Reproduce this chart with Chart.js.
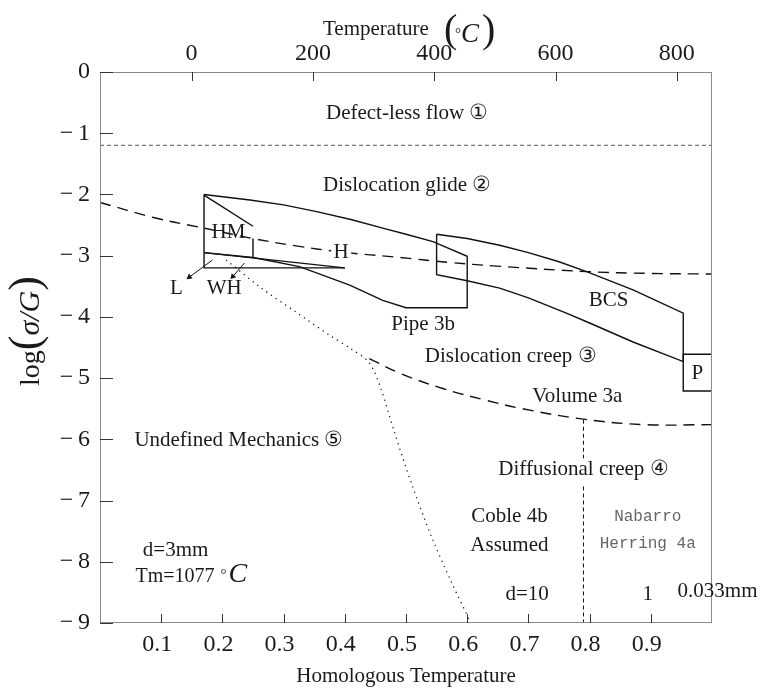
<!DOCTYPE html>
<html>
<head>
<meta charset="utf-8">
<script src="https://cdn.jsdelivr.net/npm/chart.js@4.4.1/dist/chart.umd.min.js"></script>
<style>
  html, body { margin: 0; padding: 0; background: #fff; }
</style>
</head>
<body>
<canvas id="mapChart" width="763" height="688"></canvas>
<script>
// axes
const xTicks = [0.1, 0.2, 0.3, 0.4, 0.5, 0.6, 0.7, 0.8, 0.9];
const yTicks = [0, -1, -2, -3, -4, -5, -6, -7, -8, -9];
const tempTicks = [0, 200, 400, 600, 800];
const tempRange = [-151, 858];

// boundaries (homologous T, log(sigma/G))
const idealX = [0, 1];
const idealY = [-1.2, -1.2];

const glideX = [0, 0.089, 0.17, 0.25, 0.32, 0.394, 0.49, 0.57, 0.648, 0.795, 0.9, 1.0];
const glideY = [-2.13, -2.38, -2.55, -2.72, -2.84, -2.94, -3.03, -3.11, -3.17, -3.26, -3.29, -3.30];

const pipeX = [0.17, 0.245, 0.30, 0.354, 0.41, 0.462, 0.50, 0.544, 0.60, 0.60, 0.50, 0.462, 0.408, 0.326, 0.25, 0.17];
const pipeY = [-2.0, -2.09, -2.17, -2.28, -2.41, -2.55, -2.65, -2.77, -3.01, -3.85, -3.85, -3.73, -3.48, -3.18, -3.03, -2.95];

const leftEdgeX = [0.17, 0.17, 0.40];
const leftEdgeY = [-2.0, -3.2, -3.2];
const wedgeX = [0.17, 0.40];
const wedgeY = [-2.95, -3.2];
const hmDiagX = [0.17, 0.25];
const hmDiagY = [-2.01, -2.52];
const hmSideX = [0.25, 0.25];
const hmSideY = [-2.72, -3.04];

const bcsX = [0.55, 0.60, 0.653, 0.70, 0.75, 0.795, 0.871, 0.953, 0.953, 0.871, 0.80, 0.762, 0.70, 0.653, 0.60, 0.55, 0.55];
const bcsY = [-2.65, -2.72, -2.83, -2.95, -3.10, -3.26, -3.56, -3.94, -4.73, -4.41, -4.10, -3.94, -3.69, -3.53, -3.41, -3.31, -2.65];

const pBoxX = [1.0, 0.953, 0.953, 1.0];
const pBoxY = [-4.61, -4.61, -5.21, -5.21];

const undefX = [0.206, 0.261, 0.32, 0.375, 0.41, 0.44, 0.46, 0.48, 0.51, 0.542, 0.575, 0.606];
const undefY = [-3.07, -3.51, -3.92, -4.30, -4.52, -4.75, -5.2, -5.85, -6.75, -7.6, -8.35, -9.0];

const volumeX = [0.44, 0.49, 0.56, 0.63, 0.69, 0.79, 0.89, 1.0];
const volumeY = [-4.68, -4.92, -5.17, -5.36, -5.50, -5.67, -5.76, -5.76];

const nhX = [0.79, 0.79, 0.79, 0.79, 0.79];
const nhY = [-5.68, -6.31, null, -6.77, -9.0];

const arrowL_X = [0.184, 0.146];
const arrowL_Y = [-3.07, -3.35];
const arrowWH_X = [0.236, 0.217];
const arrowWH_Y = [-3.12, -3.34];

// region labels
const labelText = ['Defect-less flow \u2460', 'Dislocation glide \u2461', 'HM', 'H', 'L', 'WH', 'Pipe 3b', 'BCS',
  'Dislocation creep \u2462', 'Volume 3a', 'P', 'Undefined Mechanics \u2464', 'Diffusional creep \u2463',
  'Coble 4b', 'Assumed', 'd=10', '1', '0.033mm', 'd=3mm'];
const labelX = [0.502, 0.502, 0.210, 0.394, 0.125, 0.203, 0.528, 0.831, 0.671, 0.780, 0.976, 0.227, 0.790,
  0.669, 0.669, 0.698, 0.895, 1.009, 0.1235];
const labelY = [-0.67, -1.846, -2.62, -2.94, -3.53, -3.53, -4.12, -3.74, -4.65, -5.30, -4.93, -6.02, -6.49,
  -7.26, -7.73, -8.54, -8.54, -8.49, -7.81];
const monoText = ['Nabarro', 'Herring 4a'];
const monoX = [0.895, 0.895];
const monoY = [-7.27, -7.71];

const SERIF = '"Liberation Serif", "Times New Roman", serif';

function pts(xs, ys) {
  return xs.map((x, i) => ({ x: x, y: ys[i] }));
}

function line(xs, ys, opts) {
  return Object.assign({
    data: pts(xs, ys),
    showLine: true,
    pointRadius: 0,
    borderColor: '#111',
    borderWidth: 1.4,
    tension: 0,
    fill: false
  }, opts || {});
}

const datasets = [
  line(idealX, idealY, { borderColor: '#777', borderWidth: 1.2, borderDash: [4, 3] }),
  line(glideX, glideY, { borderDash: [11, 7], tension: 0.4 }),
  line(pipeX, pipeY),
  line(leftEdgeX, leftEdgeY),
  line(wedgeX, wedgeY, { borderWidth: 1.1 }),
  line(hmDiagX, hmDiagY),
  line(hmSideX, hmSideY),
  line(bcsX, bcsY),
  line(pBoxX, pBoxY),
  line(undefX, undefY, { borderDash: [1.2, 4.5], borderWidth: 1.3, tension: 0.3 }),
  line(volumeX, volumeY, { borderDash: [11, 7], tension: 0.4 }),
  line(nhX, nhY, { borderDash: [4, 3], borderWidth: 1 }),
  line(arrowL_X, arrowL_Y, { borderWidth: 1, pointRadius: [0, 3.5], pointStyle: 'triangle',
    pointRotation: [0, 234], pointBackgroundColor: '#111', pointBorderWidth: 0 }),
  line(arrowWH_X, arrowWH_Y, { borderWidth: 1, pointRadius: [0, 3.5], pointStyle: 'triangle',
    pointRotation: [0, 221], pointBackgroundColor: '#111', pointBorderWidth: 0 })
];

function txt(ctx, s, x, y, font, color, align, base) {
  ctx.font = font;
  ctx.fillStyle = color || '#1a1a1a';
  ctx.textAlign = align || 'center';
  ctx.textBaseline = base || 'middle';
  ctx.fillText(s, x, y);
}

const decor = {
  id: 'decor',
  afterDraw(chart) {
    const ctx = chart.ctx;
    const a = chart.chartArea;
    const sx = chart.scales.x, sy = chart.scales.y, st = chart.scales.x2;
    ctx.save();

    // frame
    ctx.strokeStyle = '#8a8a8a';
    ctx.lineWidth = 1;
    ctx.strokeRect(a.left + 0.5, a.top + 0.5, a.right - a.left - 1, a.bottom - a.top - 1);

    // inward tick marks
    ctx.strokeStyle = '#333';
    ctx.beginPath();
    xTicks.forEach(v => {
      const p = Math.round(sx.getPixelForValue(v)) + 0.5;
      ctx.moveTo(p, a.bottom); ctx.lineTo(p, a.bottom - 9);
    });
    tempTicks.forEach(v => {
      const p = Math.round(st.getPixelForValue(v)) + 0.5;
      ctx.moveTo(p, a.top); ctx.lineTo(p, a.top + 9);
    });
    yTicks.forEach(v => {
      const p = Math.round(sy.getPixelForValue(v)) + 0.5;
      ctx.moveTo(a.left, p); ctx.lineTo(a.left + 13, p);
    });
    ctx.stroke();

    // region labels
    labelText.forEach((s, i) => {
      const px = sx.getPixelForValue(labelX[i]), py = sy.getPixelForValue(labelY[i]);
      if (s === 'H') {
        ctx.fillStyle = '#fff';
        ctx.fillRect(px - 10, py - 9, 20, 18);
      }
      txt(ctx, s, px, py, '21px ' + SERIF);
    });
    monoText.forEach((s, i) => {
      txt(ctx, s, sx.getPixelForValue(monoX[i]), sy.getPixelForValue(monoY[i]),
        '16px "Liberation Mono", monospace', '#666');
    });

    // Tm=1077 °C
    const tx = sx.getPixelForValue(0.058), ty = 582;
    txt(ctx, 'Tm=1077', tx, ty, '20px ' + SERIF, null, 'left', 'alphabetic');
    const tw = ctx.measureText('Tm=1077').width;
    txt(ctx, '\u00b0', tx + tw + 6, ty - 3, '15px ' + SERIF, null, 'left', 'alphabetic');
    txt(ctx, 'C', tx + tw + 14, ty, 'italic 28px ' + SERIF, null, 'left', 'alphabetic');

    // top title: Temperature (°C)
    txt(ctx, 'Temperature', 323, 35, '21px ' + SERIF, null, 'left', 'alphabetic');
    txt(ctx, '(', 444, 42, '40px ' + SERIF, null, 'left', 'alphabetic');
    txt(ctx, '\u00b0', 455, 38, '15px ' + SERIF, null, 'left', 'alphabetic');
    txt(ctx, 'C', 461, 42, 'italic 27px ' + SERIF, null, 'left', 'alphabetic');
    txt(ctx, ')', 482, 42, '40px ' + SERIF, null, 'left', 'alphabetic');

    // bottom title
    txt(ctx, 'Homologous Temperature', 406, 682, '21px ' + SERIF, null, 'center', 'alphabetic');

    // y title: log(σ/G), rotated
    ctx.translate(39, 331);
    ctx.rotate(-Math.PI / 2);
    const parts = [
      ['log', '28px ' + SERIF],
      ['(', '44px ' + SERIF],
      ['\u03c3/', 'italic 30px ' + SERIF],
      ['G', 'italic 30px ' + SERIF],
      [')', '44px ' + SERIF]
    ];
    let total = 0;
    parts.forEach(p => { ctx.font = p[1]; total += ctx.measureText(p[0]).width; });
    let cx = -total / 2;
    parts.forEach(p => {
      txt(ctx, p[0], cx, 0, p[1], null, 'left', 'alphabetic');
      ctx.font = p[1];
      cx += ctx.measureText(p[0]).width;
    });

    ctx.restore();
  }
};

const tickFont = { family: SERIF, size: 24 };

new Chart(document.getElementById('mapChart').getContext('2d'), {
  type: 'scatter',
  data: { datasets: datasets },
  plugins: [decor],
  options: {
    responsive: false,
    animation: false,
    layout: { padding: { left: 0, right: 51, top: 0, bottom: 0 } },
    plugins: { legend: { display: false }, tooltip: { enabled: false } },
    scales: {
      x: {
        type: 'linear', position: 'bottom', min: 0, max: 1,
        afterBuildTicks: s => { s.ticks = xTicks.map(v => ({ value: v })); },
        afterFit: s => { s.height = 65; },
        grid: { display: false, drawTicks: false },
        border: { display: false },
        ticks: { font: tickFont, color: '#1a1a1a', padding: 7, maxRotation: 0, labelOffset: -4,
          callback: v => v.toFixed(1) }
      },
      x2: {
        type: 'linear', position: 'top', min: tempRange[0], max: tempRange[1],
        afterBuildTicks: s => { s.ticks = tempTicks.map(v => ({ value: v })); },
        afterFit: s => { s.height = 72; },
        grid: { display: false, drawTicks: false },
        border: { display: false },
        ticks: { font: tickFont, color: '#1a1a1a', padding: 4, maxRotation: 0,
          callback: v => String(v) }
      },
      y: {
        type: 'linear', min: -9, max: 0,
        afterBuildTicks: s => { s.ticks = yTicks.map(v => ({ value: v })); },
        afterFit: s => { s.width = 100; },
        grid: { display: false, drawTicks: false },
        border: { display: false },
        ticks: { font: tickFont, color: '#1a1a1a', padding: 10,
          callback: v => v < 0 ? '\u2212\u2009' + Math.abs(v) : '0' }
      }
    }
  }
});
</script>
</body>
</html>
